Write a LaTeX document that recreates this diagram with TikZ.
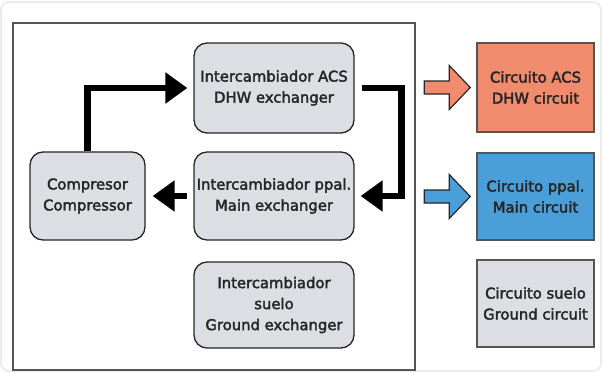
\documentclass[tikz,border=0pt]{standalone}
\usepackage{fontspec}
\setmainfont{DejaVu Sans}[UprightFeatures={FakeBold=2.5}]
\usetikzlibrary{arrows.meta,calc}
\definecolor{boxgray}{HTML}{DCDEE3}
\definecolor{txt}{HTML}{262626}
\definecolor{acsorange}{HTML}{F08B6E}
\definecolor{mainblue}{HTML}{4A9FD8}
\definecolor{framegray}{HTML}{555555}
\tikzset{
  unit/.style={draw=txt, line width=1.3pt, fill=boxgray, rounded corners=13pt,
    align=center, text=txt, font=\fontsize{14.8}{21}\selectfont, inner sep=0pt},
  circuit/.style={draw=framegray, line width=1.5pt, align=center, text=txt,
    font=\fontsize{14.8}{21}\selectfont, inner sep=0pt},
  flow/.style={line width=6.5pt, black, -{Triangle[length=22pt,width=30pt]}},
  hollow/.style={draw=txt, line width=1.2pt, line join=miter},
}
\begin{document}
\begin{tikzpicture}[x=1pt,y=-1pt]
\useasboundingbox (0,0) rectangle (603,372);
\fill[white] (0,0) rectangle (603,372);
\draw[gray!15, line width=2pt, rounded corners=8pt] (1,2) rectangle (601,371);
% outer frame
\draw[framegray, line width=1.5pt] (13,23) rectangle (415,370);
% units
\node[unit, minimum width=160pt, minimum height=90pt] (acs) at (274,88) {Intercambiador ACS\\DHW exchanger};
\node[unit, minimum width=160pt, minimum height=88pt] (ppal) at (274,196) {Intercambiador ppal.\\Main exchanger};
\node[unit, minimum width=160pt, minimum height=86pt] (gnd) at (274,305) {Intercambiador\\suelo\\Ground exchanger};
\node[unit, minimum width=115pt, minimum height=88pt] (comp) at (87.5,196) {Compresor\\Compressor};
% circuits
\node[circuit, fill=acsorange, minimum width=117pt, minimum height=89pt] (cacs) at (535.5,87.5) {Circuito ACS\\DHW circuit};
\node[circuit, fill=mainblue, minimum width=117pt, minimum height=87pt] (cmain) at (535.5,196.5) {Circuito ppal.\\Main circuit};
\node[circuit, fill=boxgray, minimum width=117pt, minimum height=87pt] (cgnd) at (535.5,303.5) {Circuito suelo\\Ground circuit};
% flow arrows
\draw[flow, shorten >=6pt] (comp.north) |- (acs.west);
\draw[flow, shorten <=7pt, shorten >=6pt] (acs.east) -- ++(47,0) coordinate (turn) |- (ppal.east);
\draw[flow, shorten <=6pt, shorten >=7pt] (ppal.west) -- (comp.east);
% hollow arrows
\coordinate (t1) at ($(cacs.west)+(-6,0)$);
\coordinate (t2) at ($(cmain.west)+(-6,0)$);
\draw[hollow, fill=acsorange] (t1) -- ++(-21,-22) -- ++(0,15.5) -- ++(-25,0) -- ++(0,13) -- ++(25,0) -- ++(0,15.5) -- cycle;
\draw[hollow, fill=mainblue] (t2) -- ++(-21,-22) -- ++(0,15.5) -- ++(-25,0) -- ++(0,13) -- ++(25,0) -- ++(0,15.5) -- cycle;
\end{tikzpicture}
\end{document}
